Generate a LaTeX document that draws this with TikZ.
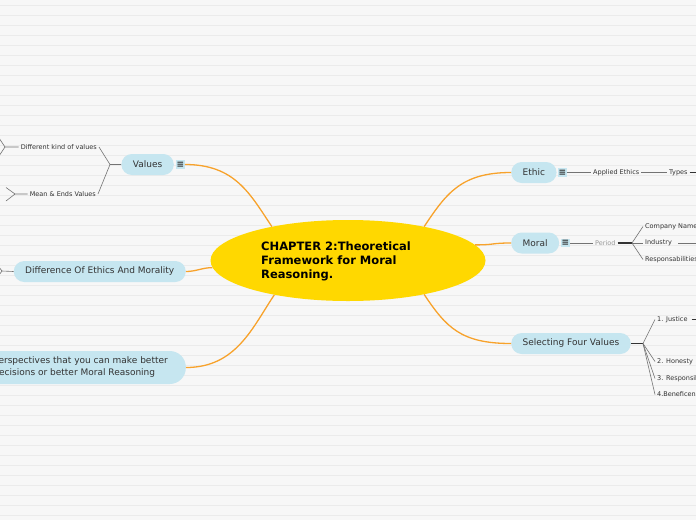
\documentclass[tikz,border=0pt]{standalone}
\usepackage{fontspec}
\setmainfont{DejaVu Sans}
\usetikzlibrary{positioning,calc,shapes.geometric}
\definecolor{paper}{HTML}{F7F7F7}
\definecolor{ruling}{HTML}{EBEBEB}
\definecolor{gold}{HTML}{FFD800}
\definecolor{pillblue}{HTML}{C6E6F0}
\definecolor{orng}{HTML}{F7A22B}
\definecolor{ink}{HTML}{333333}
\tikzset{
  root/.style   = {ellipse, fill=gold, minimum width=275pt, minimum height=81pt,
                   inner sep=0pt},
  title/.style  = {font=\fontsize{11.5}{14}\selectfont\bfseries, align=left,
                   text=black, inner sep=0pt},
  pill/.style   = {fill=pillblue, rounded corners=10.5pt, minimum height=21pt,
                   inner xsep=11.5pt, inner ysep=0pt,
                   font=\fontsize{9}{12}\selectfont, text=ink},
  icon/.style   = {fill=pillblue, minimum size=8.5pt, inner sep=0pt,
                   font=\fontsize{9}{9}\selectfont\bfseries, text=ink},
  leaf/.style   = {font=\fontsize{6.5}{7}\selectfont, text=ink, inner sep=2pt},
  branch/.style = {draw=orng, line width=1.3pt},
  twig/.style   = {draw=black!55, line width=0.6pt},
  stem/.style   = {draw=ink, line width=1.1pt},
}

\begin{document}
\begin{tikzpicture}[x=1pt,y=-1pt]
  \clip (0,0) rectangle (696,520);
  \fill[paper] (0,0) rectangle (696,520);
  \foreach \y in {5,15,...,515} \draw[ruling, line width=0.7pt] (0,\y) -- (696,\y);
  % centre topic
  \node[root] (root) at (348,260.5) {};
  \node[title, anchor=west] (ttl) at (261,261) {CHAPTER 2:Theoretical\\Framework for Moral\\Reasoning.};
  % left topics
  \node[pill, anchor=east] (vals) at (174,164.5) {Values};
  \node[icon] (vico) at (180.5,164.5) {≡};
  \node[pill, anchor=east] (diff) at (186,271.5) {Difference Of Ethics And Morality};
  \node[pill, anchor=east, align=left, minimum height=33pt, rounded corners=16pt,
        inner xsep=18pt] (persp) at (186,367.5)
    {Perspectives that you can make better\\decisions or better Moral Reasoning};
  % right topics
  \node[pill, anchor=west] (ethic) at (511,172.5) {Ethic};
  \node[icon] (eico) at (562.5,172.5) {≡};
  \node[pill, anchor=west] (moral) at (511,243) {Moral};
  \node[icon] (mico) at (565.5,243) {≡};
  \node[pill, anchor=west] (sel) at (511,343.5) {Selecting Four Values};
  % orange branches
  \draw[branch] (root.156) .. controls +(-22,-33) and +(50,0) .. (vico.east);
  \draw[branch] (root.183) .. controls +(-10,0) and +(10,0) .. (diff.east);
  \draw[branch] (root.205) .. controls +(-22,33) and +(50,0) .. (persp.east);
  \draw[branch] (root.24) .. controls +(22,-33) and +(-50,0) .. (ethic.west);
  \draw[branch] (root.7) .. controls +(20,0) and +(-20,0) .. (moral.west);
  \draw[branch] (root.-24) .. controls +(22,33) and +(-50,0) .. (sel.west);

  % Values subtopics
  \coordinate (vfork) at (110,164.5);
  \node[leaf, anchor=east] (kind) at (99,147) {Different kind of values};
  \node[leaf, anchor=east] (means) at (98,194) {Mean \& Ends Values};
  \draw[twig] (vals.west) -- (vfork) -- (kind.east);
  \draw[twig] (vfork) -- (means.east);
  \coordinate (kfork) at (5,147);
  \coordinate (k1) at (-3,135);
  \coordinate (k2) at (-3,159);
  \draw[twig] (kind.west) -- (kfork) -- (k1);
  \draw[twig] (kfork) -- (k2);
  \coordinate (mfork0) at (15,194);
  \coordinate (m1) at (6,187.5);
  \coordinate (m2) at (6,201);
  \draw[twig] (means.west) -- (mfork0) -- (m1);
  \draw[twig] (mfork0) -- (m2);
  \coordinate (dfork) at (2,271);
  \coordinate (d1) at (-4,263);
  \coordinate (d2) at (-4,279);
  \draw[twig] (diff.west) -- (dfork) -- (d1);
  \draw[twig] (dfork) -- (d2);

  % Ethic subtopics
  \node[leaf, anchor=west] (applied) at (591,172.5) {Applied Ethics};
  \node[leaf, anchor=west] (types) at (667,172.5) {Types};
  \coordinate (tout) at (700,172.5);
  \draw[twig] (eico.east) -- (applied.west);
  \draw[twig] (applied.east) -- (types.west);
  \draw[stem] (types.east) -- (tout);

  % Moral subtopics
  \node[leaf, anchor=west, text=black!40] (period) at (593,243) {Period};
  \coordinate (pfork) at (632,243);
  \node[leaf, anchor=west] (company) at (643,226.5) {Company Name};
  \node[leaf, anchor=west] (industry) at (643,243) {Industry};
  \node[leaf, anchor=west] (resp) at (643,259.5) {Responsabilities};
  \coordinate (iout) at (700,243);
  \draw[twig] (mico.east) -- (period.west);
  \draw[stem] (period.east) -- (pfork);
  \draw[twig] (pfork) -- (company.west);
  \draw[twig] (pfork) -- (industry.west);
  \draw[twig] (pfork) -- (resp.west);
  \draw[twig] (industry.east) ++(4,0) -- (iout);

  % Selecting Four Values subtopics
  \coordinate (sfork) at (643,343.5);
  \node[leaf, anchor=west] (just) at (655,319.5) {1. Justice};
  \node[leaf, anchor=west] (hon) at (655,361.5) {2. Honesty};
  \node[leaf, anchor=west] (respo) at (655,378.5) {3. Responsibility};
  \node[leaf, anchor=west] (bene) at (655,394.5) {4.Beneficence};
  \coordinate (jout) at (700,319.5);
  \draw[stem] (sel.east) -- (sfork);
  \draw[twig] (sfork) -- (just.west);
  \draw[twig] (sfork) -- (hon.west);
  \draw[twig] (sfork) -- (respo.west);
  \draw[twig] (sfork) -- (bene.west);
  \draw[stem] (just.east) ++(2,0) -- (jout);
\end{tikzpicture}
\end{document}
